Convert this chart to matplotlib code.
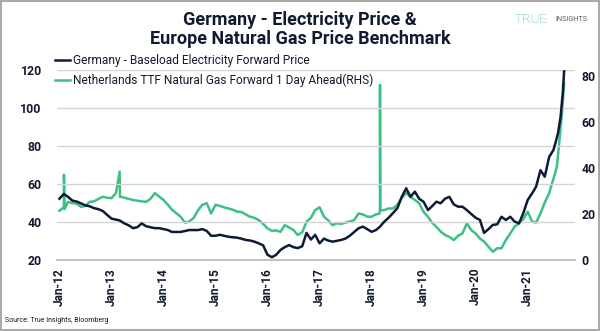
import matplotlib
matplotlib.use("Agg")
import matplotlib.pyplot as plt
import matplotlib.dates as mdates
import pandas as pd
from matplotlib.patches import Rectangle
from matplotlib.lines import Line2D

# ---------------- data ----------------
months = pd.date_range("2012-01-01", "2021-07-01", freq="MS")

elec_monthly = [
    52, 54.5, 53, 51, 50.5, 49.5, 48.5, 48, 47, 46.5, 45.5, 43.5,          # 2012
    41.5, 41, 40.5, 39, 38, 36.5, 37, 39, 37.5, 37, 36.5, 36.5,            # 2013
    36, 35.5, 34.5, 34.5, 34.5, 35, 35.5, 35.5, 35.5, 36, 35, 32.5,        # 2014
    32.5, 33, 32.5, 32, 31.7, 31.5, 31, 30.3, 30, 29.4, 28.5, 27.5,        # 2015
    22.5, 21.2, 22.4, 25, 26.5, 27.6, 26.5, 26, 27, 34, 30.5, 33,          # 2016
    28.5, 31, 30, 29.4, 29.8, 30.3, 31, 32.5, 34.5, 36.4, 37.3, 36,        # 2017
    34.6, 35.5, 37.3, 40, 42, 44.5, 47, 53, 57.5, 53, 55.7, 52,            # 2018
    50.4, 46, 48, 50.4, 49.6, 52, 53, 49, 47.8, 47.8, 46, 44,              # 2019
    42, 40.8, 34, 36, 38.2, 38.5, 42.5, 40.8, 42.5, 40, 39, 44.3,          # 2020
    51.3, 54.8, 58.3, 67, 63.6, 74, 77.6,                                  # 2021
]
elec_tail_dates = ["2021-08-01", "2021-08-20", "2021-09-05", "2021-09-14"]
elec_tail_vals = [86, 95, 108, 119]

gas_monthly = [
    21.3, 22.8, 25.2, 24.6, 24.4, 23, 23.4, 25.2, 25.4, 26.5, 27.4, 27,    # 2012
    26.8, 29, 27.4, 27, 26.5, 26, 25.7, 25.4, 25.2, 26.5, 29, 27.5,        # 2013
    26, 23.9, 21.8, 20.2, 18.7, 16.1, 16.6, 18.2, 21.6, 23.9, 24.6, 20.1,  # 2014
    23.9, 23.4, 22.8, 22.3, 21.8, 20.9, 20.8, 19.7, 18.7, 18.2, 17.2, 15.6,# 2015
    13.6, 12.5, 12.7, 12.1, 15, 14, 12.9, 10.7, 11.9, 16.5, 18.2, 21.6,    # 2016
    22.8, 18.7, 17.2, 15, 15.8, 15.6, 16.1, 16.6, 17.2, 20.1, 19.7, 18.7,  # 2017
    18.7, 19.7, 22.3, 21.6, 22.3, 22.3, 23.9, 27, 29, 27.4, 26, 24.6,      # 2018
    20.8, 18.7, 16.1, 14.3, 12.2, 10.7, 9.9, 8.5, 10.4, 11.4, 15.8, 12.9,  # 2019
    11.4, 9.2, 7.8, 5.6, 3.4, 4.9, 4.9, 8.5, 11.4, 14.3, 15.8, 17.6,       # 2020
    20.9, 16.6, 16.1, 20.1, 24.9, 29, 35.3,                                # 2021
]
gas_spike_dates = ["2012-02-02", "2012-02-06", "2013-02-27", "2013-03-03",
                   "2018-02-26", "2018-03-01", "2018-03-03"]
gas_spike_vals = [37, 22, 38.4, 27.5, 20, 76.3, 21.5]
gas_tail_dates = ["2021-07-25", "2021-08-08", "2021-09-01", "2021-09-14"]
gas_tail_vals = [40.5, 49.3, 65.4, 76.8]

left_ticks = [20, 40, 60, 80, 100, 120]
right_ticks = [0, 20, 40, 60, 80]
x_tick_years = list(range(2012, 2022))

title = "Germany - Electricity Price &\nEurope Natural Gas Price Benchmark"
legend_labels = ["Germany - Baseload Electricity Forward Price",
                 "Netherlands TTF Natural Gas Forward 1 Day Ahead(RHS)"]
source = "Source: True Insights, Bloomberg"

# ---------------- build series ----------------
elec = pd.Series(elec_monthly + elec_tail_vals,
                 index=list(months) + list(pd.to_datetime(elec_tail_dates))).sort_index()
gas = pd.Series(gas_monthly + gas_spike_vals + gas_tail_vals,
                index=list(months) + list(pd.to_datetime(gas_spike_dates))
                + list(pd.to_datetime(gas_tail_dates))).sort_index()

NAVY = "#0e1a38"
GREEN = "#3dbf85"
TXT = "#121a30"

plt.rcParams["font.family"] = ["Roboto", "DejaVu Sans"]

fig = plt.figure(figsize=(6.0, 3.31), dpi=100)
ax = fig.add_axes([0.095, 0.216, 0.863, 0.574])
ax2 = ax.twinx()

ax.plot(elec.index, elec.values, color=NAVY, lw=1.8, zorder=3)
ax2.plot(gas.index, gas.values, color=GREEN, lw=1.8, zorder=2)
ax.set_zorder(ax2.get_zorder() + 1)
ax.patch.set_visible(False)

ax.set_ylim(20, 120)
ax2.set_ylim(0, 83)
ax.set_xlim(pd.Timestamp("2011-12-15"), pd.Timestamp("2021-11-28"))

ax.set_yticks(left_ticks)
ax2.set_yticks(right_ticks)
ax.yaxis.grid(True, color="#d4d4d4", lw=1.0)
ax.set_axisbelow(True)

for a in (ax, ax2):
    for s in a.spines.values():
        s.set_visible(False)
ax.spines["bottom"].set_visible(True)
ax.spines["bottom"].set_color("#b5b5b5")
ax.spines["bottom"].set_linewidth(1.2)

ax.set_xticks([pd.Timestamp(f"{y}-01-01") for y in x_tick_years])
ax.xaxis.set_major_formatter(mdates.DateFormatter("Jan-%y"))
ax.tick_params(axis="x", length=0, pad=6, labelsize=8.6, labelcolor=TXT, rotation=90)
ax.tick_params(axis="y", length=0, pad=11, labelsize=8.8, labelcolor=TXT)
ax2.tick_params(axis="y", length=0, pad=5, labelsize=8.8, labelcolor=TXT)
for lab in ax.get_xticklabels() + ax.get_yticklabels() + ax2.get_yticklabels():
    lab.set_fontweight("bold")

# legend
handles = [Line2D([], [], color=NAVY, lw=1.8), Line2D([], [], color=GREEN, lw=1.8)]
fig.legend(handles, legend_labels, loc="upper left",
           bbox_to_anchor=(0.083, 0.852), frameon=False, fontsize=8.6,
           handlelength=1.3, handletextpad=0.25, labelspacing=0.55,
           labelcolor=TXT, borderaxespad=0)

fig.text(0.5, 0.968, title, ha="center", va="top", fontsize=13,
         fontweight="bold", color=TXT, linespacing=1.08)
fig.text(0.008, 0.033, source, ha="left", va="center", fontsize=5, color=TXT)

fig.text(0.858, 0.962, "TRUE", ha="left", va="top", fontsize=9.5,
         color="#48b58c", fontweight="light")
fig.text(0.926, 0.953, "INSIGHTS", ha="left", va="top", fontsize=5.2,
         color="#555c66")

fig.add_artist(Rectangle((0.001, 0.002), 0.997, 0.996, transform=fig.transFigure,
                         fill=False, edgecolor="#9a9a9a", lw=1.2))

fig.savefig("out.png", dpi=100)
